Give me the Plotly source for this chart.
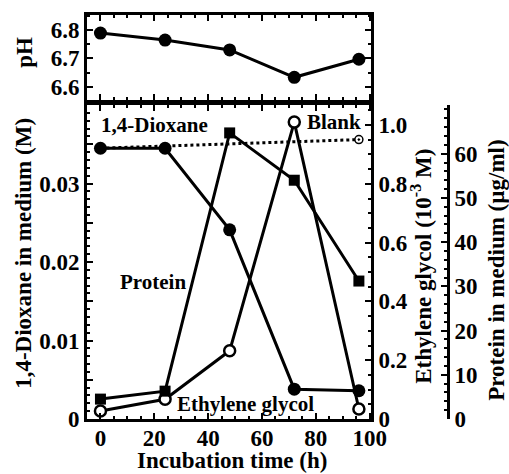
import plotly.graph_objects as go

# ---- data ----
time_h = [0, 24, 48, 72, 96]
ph = [6.79, 6.765, 6.73, 6.633, 6.697]
dioxane_M = [0.0345, 0.0345, 0.0241, 0.0038, 0.0036]
blank_t = [0, 96]
blank_dioxane_M = [0.0345, 0.0356]
ethylene_glycol = [0.027, 0.067, 0.232, 1.01, 0.034]   # 10^-3 M
protein_ugml = [4.5, 6.3, 64.7, 54.0, 31.2]

x_ticks = [0, 20, 40, 60, 80, 100]
diox_tickvals = [0, 0.005, 0.01, 0.015, 0.02, 0.025, 0.03, 0.035, 0.04]
diox_ticktext = ["0", "", "0.01", "", "0.02", "", "0.03", "", ""]

FONT = "Liberation Serif"
BLACK = "#000000"
W, H = 509, 474
L, R, T, B = 87, 61, 13, 55
PW = W - L - R
PH_ = H - T - B

def px_x(p):
    return (p - L) / PW

def px_y(p):
    return (H - B - p) / PH_

x_dom = [0, px_x(371)]

fig = go.Figure()

line_style = dict(color=BLACK, width=3)

# pH panel
fig.add_trace(go.Scatter(x=time_h, y=ph, xaxis="x2", yaxis="y4", mode="lines+markers",
                         line=line_style, marker=dict(symbol="circle", size=13, color=BLACK),
                         showlegend=False))

# blank (dotted)
fig.add_trace(go.Scatter(x=blank_t, y=blank_dioxane_M, xaxis="x", yaxis="y", mode="lines",
                         line=dict(color=BLACK, width=3, dash="dot"), showlegend=False))
fig.add_trace(go.Scatter(x=blank_t[-1:], y=blank_dioxane_M[-1:], xaxis="x", yaxis="y", mode="markers",
                         marker=dict(symbol="circle-dot", size=8, color="white",
                                     line=dict(color=BLACK, width=1.5)),
                         showlegend=False))

# protein (squares)
fig.add_trace(go.Scatter(x=time_h, y=protein_ugml, xaxis="x", yaxis="y3", mode="lines+markers",
                         line=line_style, marker=dict(symbol="square", size=11, color=BLACK),
                         showlegend=False))

# ethylene glycol (open circles)
fig.add_trace(go.Scatter(x=time_h, y=ethylene_glycol, xaxis="x", yaxis="y2", mode="lines+markers",
                         line=line_style, marker=dict(symbol="circle", size=11, color="white",
                                                      line=dict(color=BLACK, width=2.5)),
                         showlegend=False))

# dioxane (filled circles)
fig.add_trace(go.Scatter(x=time_h, y=dioxane_M, xaxis="x", yaxis="y", mode="lines+markers",
                         line=line_style, marker=dict(symbol="circle", size=13, color=BLACK),
                         showlegend=False))

tickfont = dict(family=FONT, size=23, color=BLACK, weight="bold")
minor_common = dict(ticklen=3, tickwidth=2, tickcolor=BLACK, ticks="inside")
common_axis = dict(showline=True, linecolor=BLACK, linewidth=3, ticks="inside",
                   tickcolor=BLACK, tickwidth=2, showgrid=False, zeroline=False,
                   tickfont=tickfont)

fig.update_layout(
    width=W, height=H,
    margin=dict(l=L, r=R, t=T, b=B, pad=0),
    paper_bgcolor="white", plot_bgcolor="white",
    font=dict(family=FONT, color=BLACK),
    xaxis=dict(common_axis, domain=x_dom, anchor="y", range=[-5, 100.5],
               tickvals=x_ticks, ticklen=6, mirror="ticks", ticklabelstandoff=-4,
               minor=dict(minor_common, dtick=5, tick0=0)),
    yaxis=dict(common_axis, domain=[0, px_y(103.5)], anchor="x", range=[0, 0.04],
               tickvals=diox_tickvals, ticktext=diox_ticktext, ticklen=6,
               minor=dict(minor_common, dtick=0.001, tick0=0)),
    yaxis2=dict(common_axis, overlaying="y", side="right", anchor="x", range=[0, 1.068],
                tickvals=[0, 0.2, 0.4, 0.6, 0.8, 1.0], ticktext=["0", "0.2", "0.4", "0.6", "0.8", "1.0"],
                ticklen=6, minor=dict(minor_common, dtick=0.05, tick0=0)),
    yaxis3=dict(common_axis, overlaying="y", side="right", anchor="free", position=1.0,
                range=[0, 71.0], tickvals=[0, 10, 20, 30, 40, 50, 60], ticklen=6,
                minor=dict(minor_common, dtick=2, tick0=0)),
    xaxis2=dict(common_axis, domain=x_dom, anchor="y4", range=[-5, 100.5], matches="x",
                showticklabels=False, tickvals=x_ticks, ticklen=6, mirror="ticks",
                minor=dict(minor_common, dtick=5, tick0=0)),
    yaxis4=dict(common_axis, domain=[px_y(98), 1], anchor="x2", range=[6.554, 6.854],
                tickvals=[6.6, 6.7, 6.8], ticktext=["6.6", "6.7", "6.8"], ticklen=6, mirror="ticks",
                minor=dict(minor_common, dtick=0.05, tick0=6.6)),
)

title_font = dict(family=FONT, size=23, color=BLACK)
label_font = dict(family=FONT, size=21, color=BLACK)

annotations = [
    # axis titles
    dict(text="<b>pH</b>", x=px_x(25), y=px_y(51), textangle=-90, font=title_font),
    dict(text="<b>1,4-Dioxane in medium (M)</b>", x=px_x(24), y=px_y(253), textangle=-90, font=title_font),
    dict(text="<b>Ethylene glycol (10<sup>-3</sup> M)</b>", x=px_x(422), y=px_y(266), textangle=-90, font=title_font),
    dict(text="<b>Protein in medium (µg/ml)</b>", x=px_x(497), y=px_y(270), textangle=-90, font=title_font),
    dict(text="<b>Incubation time (h)</b>", x=px_x(232), y=px_y(461), font=title_font),
]
for a in annotations:
    a.update(xref="paper", yref="paper", xanchor="center", yanchor="middle", showarrow=False)

labels = [
    dict(text="<b>1,4-Dioxane</b>", x=19.9, y=0.0374),
    dict(text="<b>Blank</b>", x=86.8, y=0.0379),
    dict(text="<b>Protein</b>", x=19.5, y=0.0175),
    dict(text="<b>Ethylene glycol</b>", x=53.7, y=0.0019),
]
for a in labels:
    a.update(xref="x", yref="y", xanchor="center", yanchor="middle", showarrow=False, font=label_font)

fig.update_layout(annotations=annotations + labels)

fig.write_html("out.html", config={"displayModeBar": False},
               post_script="document.body.style.margin='0';document.body.style.padding='0';")
